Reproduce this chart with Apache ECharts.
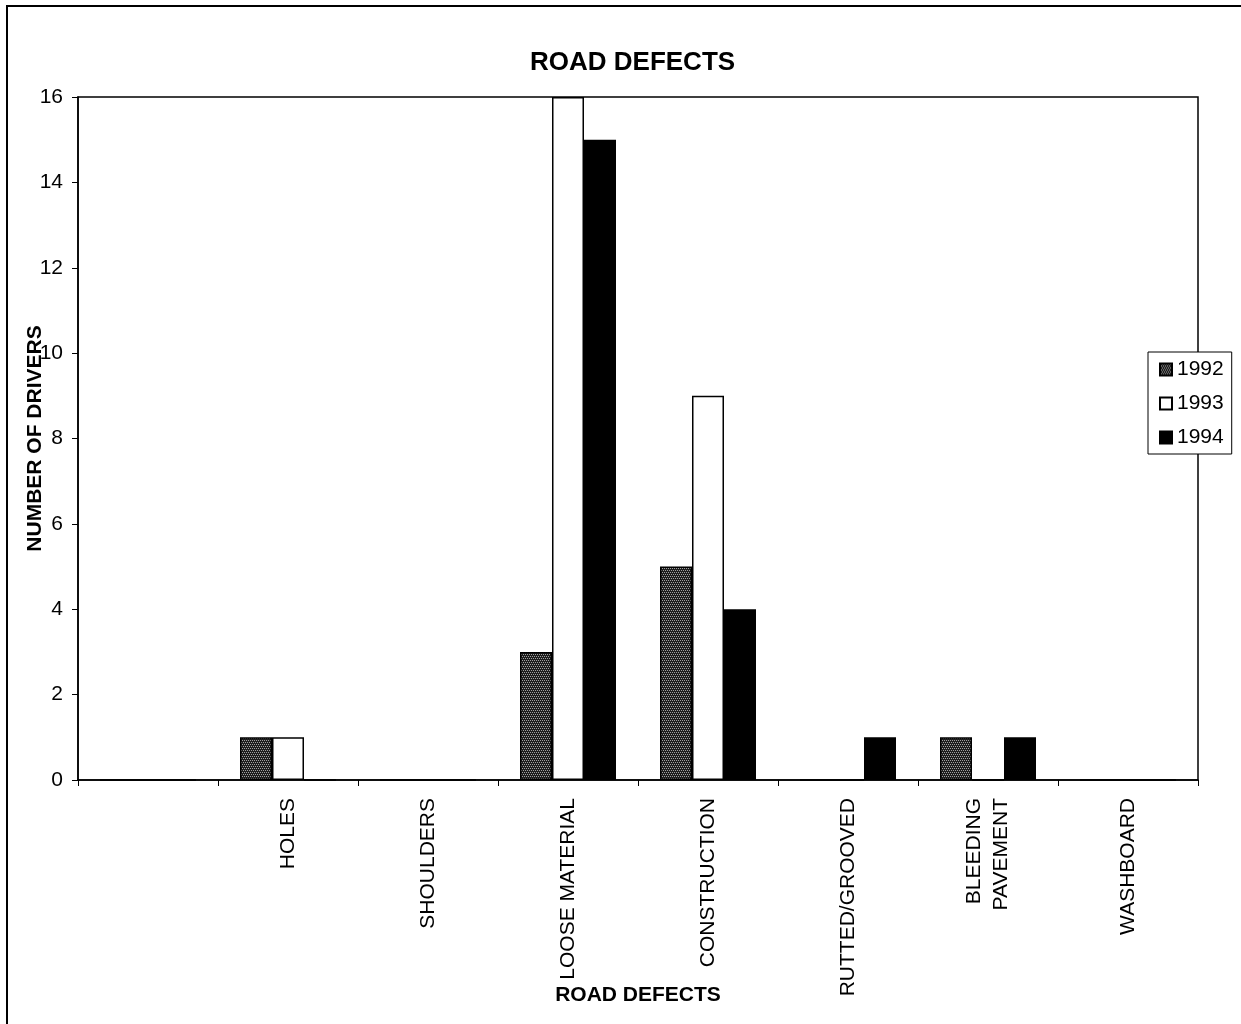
<!DOCTYPE html>
<html>
<head>
<meta charset="utf-8">
<script src="https://cdn.jsdelivr.net/npm/echarts@6/dist/echarts.min.js"></script>
<style>
html,body{margin:0;padding:0;background:#fff;}
#chart{width:1241px;height:1024px;}
</style>
</head>
<body>
<div id="chart"></div>
<script>
var categories = ['', 'HOLES', 'SHOULDERS', 'LOOSE MATERIAL', 'CONSTRUCTION', 'RUTTED/GROOVED', 'BLEEDING\nPAVEMENT', 'WASHBOARD'];
var s1992 = [0, 1, 0, 3, 5, 0, 1, 0];
var s1993 = [0, 1, 0, 16, 9, 0, 0, 0];
var s1994 = [0, 0, 0, 15, 4, 1, 1, 0];
var yTicks = [0, 2, 4, 6, 8, 10, 12, 14, 16];

var FONT = 'Liberation Sans, Arial, sans-serif';

// dotted dark-gray fill like the print pattern
var pc = document.createElement('canvas');
pc.width = 4; pc.height = 4;
var pctx = pc.getContext('2d');
pctx.fillStyle = '#1e1e1e'; pctx.fillRect(0, 0, 4, 4);
pctx.fillStyle = '#a0a0a0';
pctx.fillRect(0, 0, 1, 1); pctx.fillRect(2, 0, 1, 1);
pctx.fillRect(1, 2, 1, 1); pctx.fillRect(3, 2, 1, 1);
var ditherFill = { image: pc, repeat: 'repeat' };

var chart = echarts.init(document.getElementById('chart'));

function barSeries(name, data, color) {
  return {
    name: name, type: 'bar', data: data,
    barWidth: 32, barGap: '0%',
    itemStyle: { color: color, borderColor: '#000', borderWidth: 1.5 },
    emphasis: { disabled: true }
  };
}

chart.setOption({
  animation: false,
  backgroundColor: '#fff',
  title: {
    text: 'ROAD DEFECTS', left: 525, top: 45,
    textStyle: { fontFamily: FONT, fontSize: 26, fontWeight: 'bold', color: '#000' }
  },
  graphic: [{
    type: 'rect', shape: { x: 7, y: 6, width: 1260, height: 1040 },
    style: { fill: null, stroke: '#000', lineWidth: 2 }, silent: true
  }],
  legend: {
    orient: 'vertical', left: 1148, top: 352,
    icon: 'rect',
    itemWidth: 12, itemHeight: 12, itemGap: 13,
    padding: [7, 8, 6, 11],
    borderColor: '#000', borderWidth: 1,
    backgroundColor: '#fff',
    textStyle: { fontFamily: FONT, fontSize: 21, color: '#000' },
    data: ['1992', '1993', '1994']
  },
  grid: {
    left: 78, right: 43, top: 97, bottom: 244,
    outerBoundsMode: 'none', containLabel: false,
    show: true, borderColor: '#000', borderWidth: 1.5, backgroundColor: 'transparent'
  },
  xAxis: {
    type: 'category', data: categories,
    name: 'ROAD DEFECTS', nameLocation: 'middle', nameGap: 205, nameMoveOverlap: false,
    nameTextStyle: { fontFamily: FONT, fontSize: 21, fontWeight: 'bold', color: '#000' },
    axisLine: { lineStyle: { color: '#000', width: 1.5 } },
    axisTick: { show: true, length: 6, lineStyle: { color: '#000' }, alignWithLabel: false },
    axisLabel: {
      rotate: 90, margin: 18, interval: 0, hideOverlap: false,
      fontFamily: FONT, fontSize: 21, color: '#000', lineHeight: 27
    },
    splitLine: { show: false }
  },
  yAxis: {
    type: 'value', min: yTicks[0], max: yTicks[yTicks.length - 1], interval: 2,
    name: 'NUMBER OF DRIVERS', nameLocation: 'middle', nameGap: 32, nameRotate: 90, nameMoveOverlap: false,
    nameTextStyle: { fontFamily: FONT, fontSize: 21, fontWeight: 'bold', color: '#000' },
    axisLine: { show: true, lineStyle: { color: '#000', width: 1.5 } },
    axisTick: { show: true, length: 6, lineStyle: { color: '#000' } },
    axisLabel: { margin: 15, fontFamily: FONT, fontSize: 21, color: '#000' },
    splitLine: { show: false }
  },
  series: [
    barSeries('1992', s1992, ditherFill),
    barSeries('1993', s1993, '#ffffff'),
    barSeries('1994', s1994, '#000000')
  ]
});
</script>
</body>
</html>
